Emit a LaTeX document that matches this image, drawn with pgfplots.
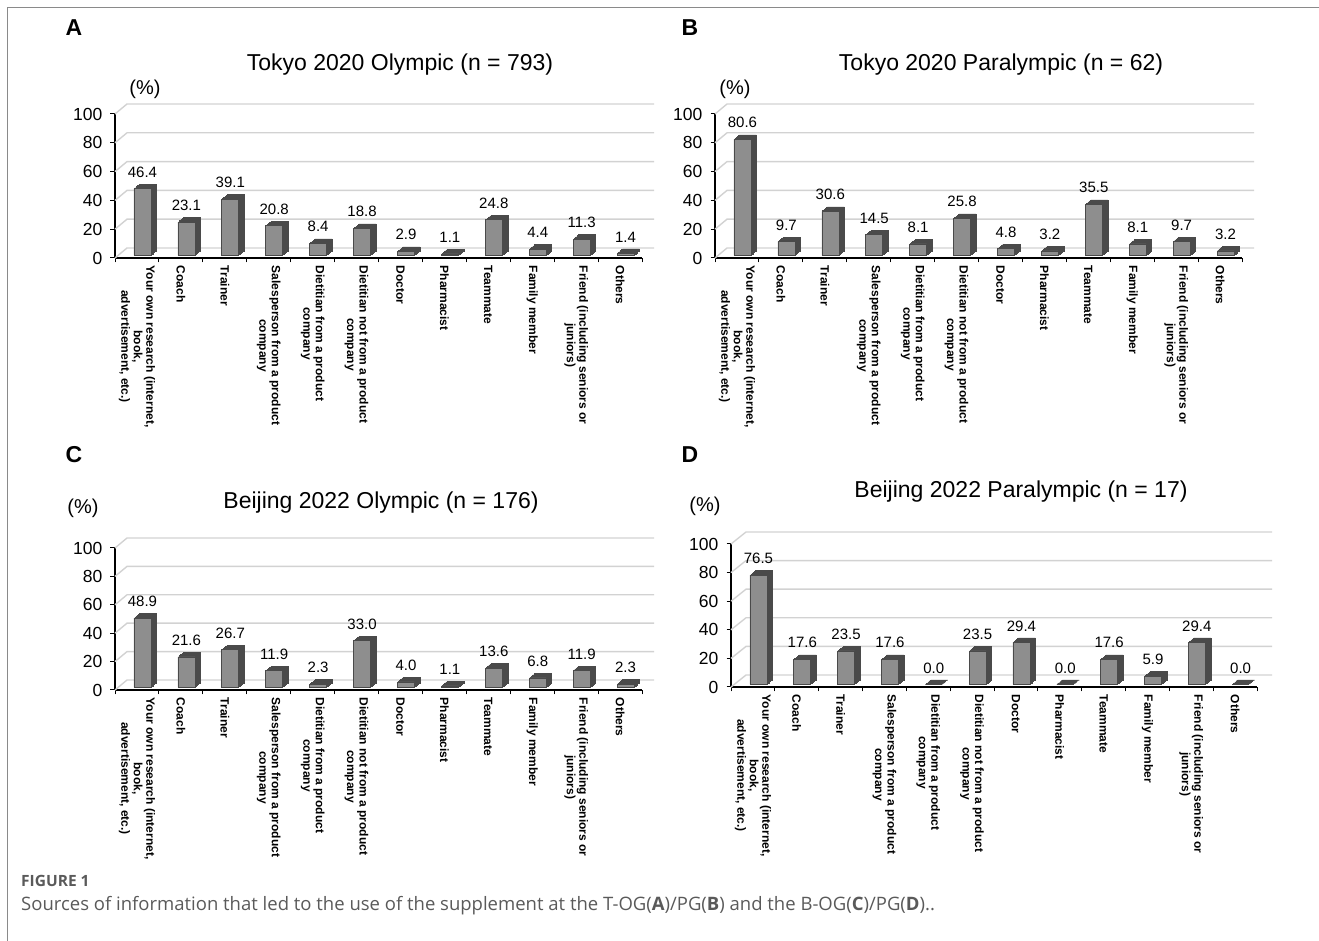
\documentclass[border=0pt]{standalone}
\usepackage{pgfplots}
\pgfplotsset{compat=1.18}
\usepackage{pgfplotstable}
\usepackage{fontspec}
\setmainfont{Liberation Sans}
\newfontfamily\capfont{Open Sans}
\definecolor{barfront}{HTML}{8E8E8E}
\definecolor{barside}{HTML}{4A4A4A}
\definecolor{gridc}{HTML}{D2D2D2}
\definecolor{capgray}{HTML}{5A5A5A}
\definecolor{framec}{HTML}{8A8A8A}

\pgfplotstableread{
x v
0.5 46.4
1.5 23.1
2.5 39.1
3.5 20.8
4.5 8.4
5.5 18.8
6.5 2.9
7.5 1.1
8.5 24.8
9.5 4.4
10.5 11.3
11.5 1.4
}\dataA
\pgfplotstableread{
x v
0.5 80.6
1.5 9.7
2.5 30.6
3.5 14.5
4.5 8.1
5.5 25.8
6.5 4.8
7.5 3.2
8.5 35.5
9.5 8.1
10.5 9.7
11.5 3.2
}\dataB
\pgfplotstableread{
x v
0.5 48.9
1.5 21.6
2.5 26.7
3.5 11.9
4.5 2.3
5.5 33.0
6.5 4.0
7.5 1.1
8.5 13.6
9.5 6.8
10.5 11.9
11.5 2.3
}\dataC
\pgfplotstableread{
x v
0.5 76.5
1.5 17.6
2.5 23.5
3.5 17.6
4.5 0.0
5.5 23.5
6.5 29.4
7.5 0.0
8.5 17.6
9.5 5.9
10.5 29.4
11.5 0.0
}\dataD

\pgfplotsset{
 panel/.style={
  scale only axis, clip=false,
  xmin=0, xmax=12, ymin=0, ymax=100,
  axis x line=bottom, axis y line=left,
  axis line style={-, line width=1.1pt, black},
  tick style={black, line width=1pt},
  tick align=outside,
  ytick={0,20,40,60,80,100},
  major tick length=4.5pt, minor tick length=4.5pt,
  xtick={0.5,1.5,...,11.5},
  major x tick style={draw=none},
  minor xtick={0,1,...,12},
  xticklabels={{Your own research (internet,\\book,\\advertisement, etc.)},
   Coach, Trainer, {Salesperson from a product\\company},
   {Dietitian from a product\\company}, {Dietitian not from a product\\company},
   Doctor, Pharmacist, Teammate, Family member,
   {Friend (including seniors or\\juniors)}, Others},
  x tick label style={rotate=-90, anchor=west, align=center, inner sep=0pt,
     font=\bfseries\fontsize{12}{12.5}\selectfont},
  y tick label style={font=\fontsize{17.5}{17.5}\selectfont, inner sep=0pt},
  yticklabel shift=8pt, xticklabel shift=3pt,
  /pgf/number format/assume math mode=true,
 },
 sidebar/.style={ybar, bar width=17pt, bar shift=0pt, fill=barside, draw=barside,
   line width=0.5pt, forget plot},
 frontbar/.style={ybar, bar width=17pt, bar shift=0pt, fill=barfront, draw=barside,
   line width=0.6pt, forget plot, xshift=5.5pt, yshift=2.5pt,
   nodes near coords={\pgfmathprintnumber[fixed,fixed zerofill,precision=1]{\pgfplotspointmeta}},
   every node near coord/.append style={font=\fontsize{15}{15}\selectfont, anchor=south,
     inner sep=0pt, yshift=11pt, black}},
}

\newcommand{\backwall}[2]{%
 \pgfplotsinvokeforeach{0,20,40,60,80,100}{%
  \draw[gridc, line width=1.4pt] (axis cs:0,##1) -- ++(#1,#2) -- ([shift={(#1,#2)}]axis cs:12,##1);}%
}
\newcommand{\threed}[1]{%
 \addplot[sidebar, xshift=11pt, yshift=7pt] table[x=x,y=v] {#1};
 \addplot[sidebar, xshift=10.08pt, yshift=6.25pt] table[x=x,y=v] {#1};
 \addplot[sidebar, xshift=9.17pt, yshift=5.5pt] table[x=x,y=v] {#1};
 \addplot[sidebar, xshift=8.25pt, yshift=4.75pt] table[x=x,y=v] {#1};
 \addplot[sidebar, xshift=7.33pt, yshift=4pt] table[x=x,y=v] {#1};
 \addplot[sidebar, xshift=6.42pt, yshift=3.25pt] table[x=x,y=v] {#1};
 \addplot[frontbar] table[x=x,y=v] {#1};
}

\begin{document}
\begin{tikzpicture}[x=1pt,y=1pt]
\path[use as bounding box] (0,0) rectangle (1319,941);
\draw[framec, line width=1pt] (7,0) -- (7,933) -- (1319,933);

% Panel A
\node[font=\bfseries\fontsize{23}{23}\selectfont] at (74,913) {A};
\node[font=\fontsize{23}{23}\selectfont] at (400,876) {Tokyo 2020 Olympic (n = 793)};
\node[font=\fontsize{20}{20}\selectfont] at (145,852) {(\%)};
\begin{axis}[panel, at={(115pt,683pt)}, anchor=south west, width=527pt, height=144pt]
\backwall{12pt}{10pt}
\threed{\dataA}
\end{axis}

% Panel B
\node[font=\bfseries\fontsize{23}{23}\selectfont] at (690,913) {B};
\node[font=\fontsize{23}{23}\selectfont] at (1001,876) {Tokyo 2020 Paralympic (n = 62)};
\node[font=\fontsize{20}{20}\selectfont] at (735,852) {(\%)};
\begin{axis}[panel, at={(715pt,683pt)}, anchor=south west, width=527pt, height=144pt]
\backwall{12pt}{10pt}
\threed{\dataB}
\end{axis}

% Panel C
\node[font=\bfseries\fontsize{23}{23}\selectfont] at (74,486) {C};
\node[font=\fontsize{23}{23}\selectfont] at (381,438) {Beijing 2022 Olympic (n = 176)};
\node[font=\fontsize{20}{20}\selectfont] at (83,433) {(\%)};
\begin{axis}[panel, at={(115pt,251pt)}, anchor=south west, width=527pt, height=142pt]
\backwall{12pt}{10pt}
\threed{\dataC}
\end{axis}

% Panel D
\node[font=\bfseries\fontsize{23}{23}\selectfont] at (690,486) {D};
\node[font=\fontsize{23}{23}\selectfont] at (1021,449) {Beijing 2022 Paralympic (n = 17)};
\node[font=\fontsize{20}{20}\selectfont] at (705,435) {(\%)};
\begin{axis}[panel, at={(731pt,254pt)}, anchor=south west, width=526pt, height=143pt]
\backwall{15pt}{12pt}
\threed{\dataD}
\end{axis}

% Caption
\node[anchor=west, inner sep=0pt, text=capgray, font=\capfont\bfseries\fontsize{15.5}{15.5}\selectfont] at (21,60) {FIGURE 1};
\node[anchor=west, inner sep=0pt, text=capgray, font=\capfont\fontsize{18.5}{18.5}\selectfont] at (21,35) {Sources of information that led to the use of the supplement at the T-OG({\bfseries A})/PG({\bfseries B}) and the B-OG({\bfseries C})/PG({\bfseries D})..};
\end{tikzpicture}
\end{document}
